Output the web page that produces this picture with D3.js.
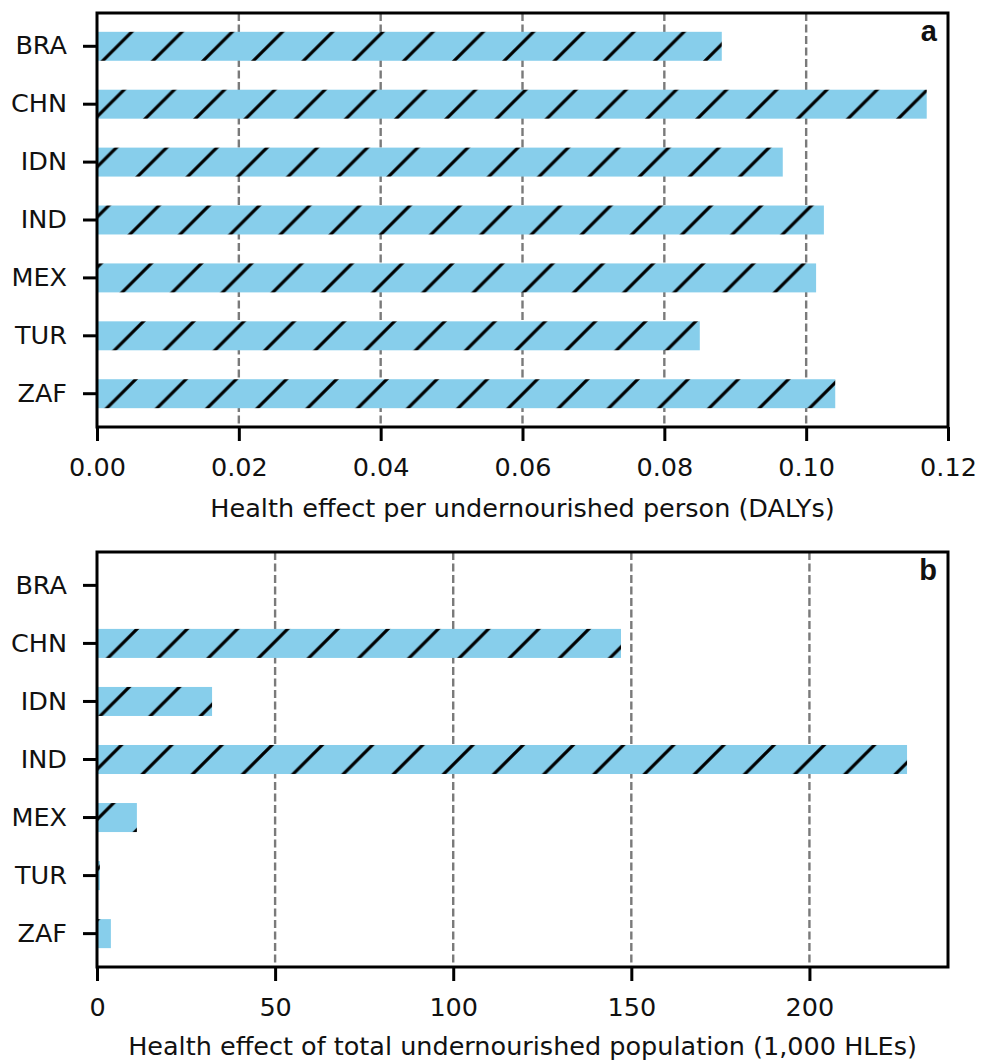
<!DOCTYPE html>
<html>
<head>
<meta charset="utf-8">
<script src="https://cdn.jsdelivr.net/npm/d3@7"></script>
<style>
  body { margin: 0; background: #fff; }
  svg text { font-family: "DejaVu Sans", sans-serif; fill: #111; }
</style>
</head>
<body>
<svg id="chart"></svg>
<script>
// data
const countries = ["BRA", "CHN", "IDN", "IND", "MEX", "TUR", "ZAF"];
const perPerson = [0.0881, 0.1170, 0.0967, 0.1025, 0.1014, 0.0850, 0.1041];
const totalPop = [0, 147.1, 32.3, 227.4, 11.2, 0.8, 3.9];
const ticksA = [0, 0.02, 0.04, 0.06, 0.08, 0.10, 0.12];
const ticksB = [0, 50, 100, 150, 200];

const W = 989, H = 1063;
const FS = 25.5;
const svg = d3.select("#chart").attr("width", W).attr("height", H);

// hatch "/" anchored to the page, like matplotlib does
const defs = svg.append("defs");
const hs = 50.2;
const pat = defs.append("pattern")
    .attr("id", "hatch")
    .attr("patternUnits", "userSpaceOnUse")
    .attr("x", 13)
    .attr("y", 0)
    .attr("width", hs)
    .attr("height", hs);
pat.append("rect").attr("width", hs).attr("height", hs).attr("fill", "#87ceeb");
pat.append("path")
    .attr("d", `M0,${hs} L${hs},0 M${-hs * 0.2},${hs * 0.2} L${hs * 0.2},${-hs * 0.2} M${hs * 0.8},${hs * 1.2} L${hs * 1.2},${hs * 0.8}`)
    .attr("stroke", "#000")
    .attr("stroke-width", 3.2)
    .attr("fill", "none");

function panel(opts) {
    const x = d3.scaleLinear().domain(opts.domain).range([97, 948]);
    const y = d3.scaleBand().domain(countries).range([opts.top, opts.bottom])
        .paddingInner(0.5).paddingOuter(0.325);

    const g = svg.append("g");

    // dashed grid behind bars
    g.append("g").selectAll("line")
        .data(opts.ticks.filter(t => x(t) > 100 && x(t) < 945))
        .enter().append("line")
        .attr("x1", d => x(d)).attr("x2", d => x(d))
        .attr("y1", opts.top).attr("y2", opts.bottom)
        .attr("stroke", "#7a7a7a")
        .attr("stroke-width", 2.4)
        .attr("stroke-dasharray", "8,3.5");

    g.append("g").selectAll("rect")
        .data(countries.map((c, i) => ({label: c, value: opts.values[i]})))
        .enter().append("rect")
        .attr("x", x(0))
        .attr("y", d => y(d.label))
        .attr("width", d => x(d.value) - x(0))
        .attr("height", y.bandwidth())
        .attr("fill", "url(#hatch)");

    // frame
    g.append("rect")
        .attr("x", 97).attr("y", opts.top)
        .attr("width", 948 - 97).attr("height", opts.bottom - opts.top)
        .attr("fill", "none")
        .attr("stroke", "#000")
        .attr("stroke-width", 3);

    const xAxis = g.append("g")
        .attr("transform", `translate(0, ${opts.bottom})`)
        .call(d3.axisBottom(x).tickValues(opts.ticks).tickFormat(opts.format)
            .tickSize(14).tickPadding(16.5).tickSizeOuter(0));
    const yAxis = g.append("g")
        .attr("transform", "translate(97, 0)")
        .call(d3.axisLeft(y).tickSize(14).tickPadding(16).tickSizeOuter(0));

    [xAxis, yAxis].forEach(a => {
        a.select(".domain").remove();
        a.selectAll(".tick line").attr("stroke", "#000").attr("stroke-width", 3);
        a.selectAll(".tick text").attr("font-size", FS)
            .attr("font-family", "DejaVu Sans, sans-serif").attr("fill", "#111");
    });

    g.append("text")
        .attr("x", (97 + 948) / 2)
        .attr("y", opts.labelY)
        .attr("text-anchor", "middle")
        .attr("font-size", FS)
        .text(opts.label);

    g.append("text")
        .attr("x", 937)
        .attr("y", opts.top + 28)
        .attr("text-anchor", "end")
        .attr("font-size", 29)
        .attr("font-weight", "bold")
        .style("font-family", "Liberation Sans, Arial, sans-serif")
        .text(opts.tag);
}

panel({
    top: 13, bottom: 427,
    domain: [0, 0.12],
    values: perPerson,
    ticks: ticksA,
    format: d3.format(".2f"),
    label: "Health effect per undernourished person (DALYs)",
    labelY: 517,
    tag: "a"
});

panel({
    top: 552, bottom: 967,
    domain: [0, 238.9],
    values: totalPop,
    ticks: ticksB,
    format: d3.format("d"),
    label: "Health effect of total undernourished population (1,000 HLEs)",
    labelY: 1055,
    tag: "b"
});
</script>
</body>
</html>
